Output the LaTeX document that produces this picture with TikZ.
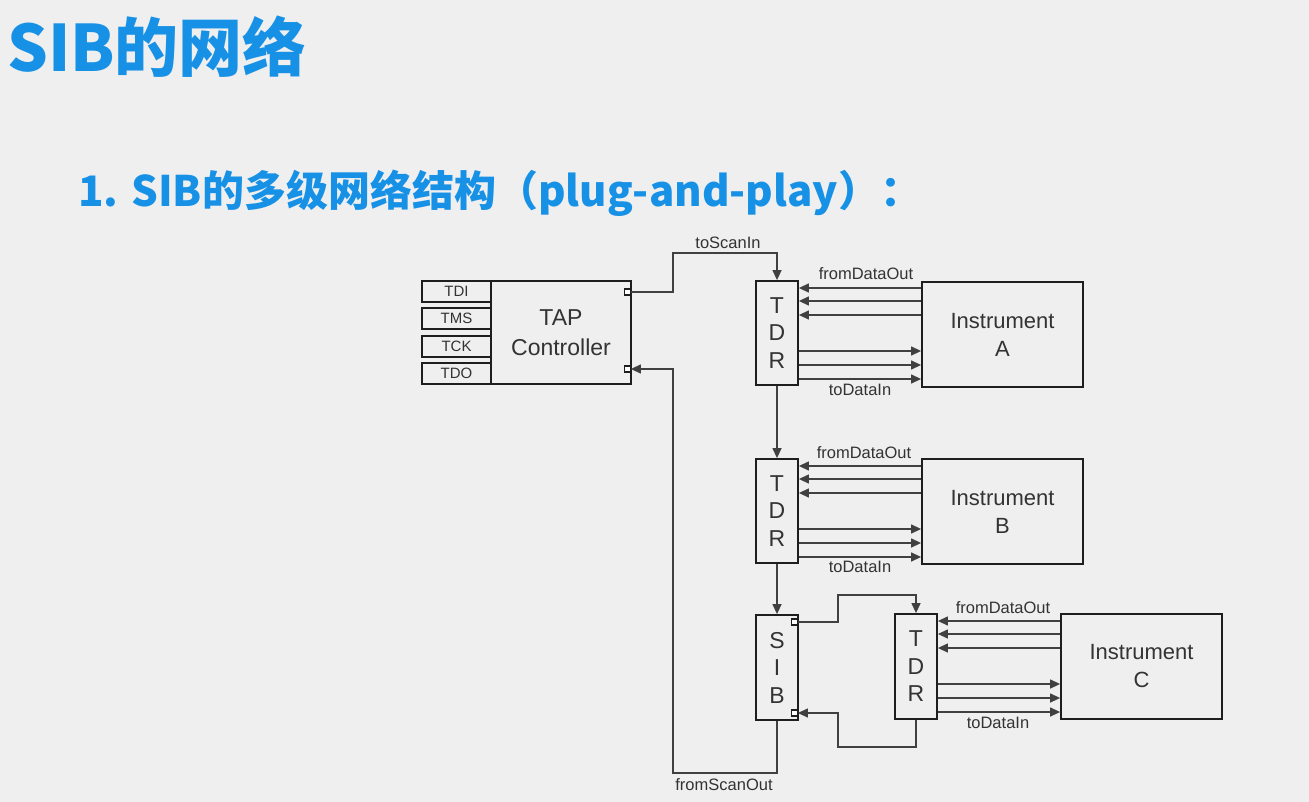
\documentclass[tikz,border=0pt]{standalone}
\usepackage{fontspec}
\setmainfont{Liberation Sans}
\newfontfamily\cjk{Noto Sans CJK SC}
\usetikzlibrary{arrows.meta,calc}
\definecolor{pagebg}{HTML}{EFEFEF}
\definecolor{titleblue}{HTML}{1791E6}
\definecolor{inkbox}{HTML}{1E1E1E}
\definecolor{inkline}{HTML}{404040}
\definecolor{inktext}{HTML}{333333}
\tikzset{
  blk/.style={draw=inkbox, line width=1.8pt, inner sep=0pt, text=inktext, align=center},
  reg/.style={blk, minimum width=42pt, minimum height=104pt,
    font=\fontsize{23}{27.5}\selectfont},
  inst/.style={blk, minimum width=161pt, minimum height=105pt,
    font=\fontsize{22}{28}\selectfont},
  pin/.style={blk, line width=1.6pt, minimum width=69pt, minimum height=21pt,
    font=\fontsize{15}{17}\selectfont},
  port/.style={draw=inkbox, line width=1.2pt, fill=white, minimum size=6pt, inner sep=0pt},
  sig/.style={draw=inkline, line width=1.3pt, -{Triangle[length=10pt,width=9pt]}},
  wire/.style={draw=inkline, line width=1.3pt},
  lbl/.style={text=inktext, font=\fontsize{16.5}{18}\selectfont, inner sep=0pt},
}
\begin{document}
\begin{tikzpicture}[x=1pt,y=-1pt]
\useasboundingbox (0,0) rectangle (1309,802);
\fill[pagebg] (0,0) rectangle (1309,802);

% headings
\node[anchor=west, inner sep=0pt, text=titleblue, font=\cjk\bfseries\fontsize{64}{66}\selectfont] (title) at (7,47) {SIB的网络};
\node[anchor=west, inner sep=0pt, text=titleblue, font=\cjk\bfseries\fontsize{42}{44}\selectfont] (subtitle) at (78,193) {1. SIB的多级网络结构（plug-and-play）：};

% TAP controller with its pins
\node[blk, minimum width=140pt, minimum height=103pt, font=\fontsize{23}{30}\selectfont] (tap) at (561,332.5) {TAP\\Controller};
\node[pin] (tdi) at (456.5,291.5) {TDI};
\node[pin] (tms) at (456.5,318.5) {TMS};
\node[pin] (tck) at (456.5,346.5) {TCK};
\node[pin] (tdo) at (456.5,373.5) {TDO};
\node[port, anchor=east] (tapout) at ($(tap.east |- 0,292)+(-1,0)$) {};
\node[port, anchor=east] (tapin) at ($(tap.east |- 0,369)+(-1,0)$) {};

% test data registers and instruments
\node[reg] (tdra) at (777,333) {T\\D\\R};
\node[reg] (tdrb) at (777,511) {T\\D\\R};
\node[reg, minimum height=105pt] (sib) at (777,667.5) {S\\I\\B};
\node[reg, minimum height=105pt] (tdrc) at (916,666.5) {T\\D\\R};
\node[port, anchor=east] (sibout) at ($(sib.east |- 0,622)+(-1,0)$) {};
\node[port, anchor=east] (sibin) at ($(sib.east |- 0,713)+(-1,0)$) {};

\node[inst] (insta) at (1002.5,334.5) {Instrument\\A};
\node[inst] (instb) at (1002.5,511.5) {Instrument\\B};
\node[inst] (instc) at (1141.5,666.5) {Instrument\\C};

% scan path
\coordinate (tsi1) at (673,292);
\coordinate (tsi2) at (673,253);
\draw[sig] (tapout.east) -- (tsi1) -- (tsi2) -- (tdra.north |- tsi2) -- (tdra.north);
\node[lbl] (tsilbl) at (728,243) {toScanIn};
\draw[sig] (tdra.south) -- (tdrb.north);
\draw[sig] (tdrb.south) -- (sib.north);
\coordinate (sa1) at (838,622);
\coordinate (sa2) at (838,595);
\draw[sig] (sibout.east) -- (sa1) -- (sa2) -- (tdrc.north |- sa2) -- (tdrc.north);
\coordinate (sb1) at (916,747);
\coordinate (sb2) at (838,747);
\coordinate (sb3) at (838,713);
\draw[sig] (tdrc.south) -- (sb1) -- (sb2) -- (sb3) -- (sibin.east);
\coordinate (so1) at (777,773);
\coordinate (so2) at (673,773);
\coordinate (so3) at (673,369);
\draw[sig] (sib.south) -- (so1) -- (so2) -- (so3) -- (tapin.east);
\node[lbl] (solbl) at (724,785) {fromScanOut};

% data buses between registers and instruments
\foreach \r/\i/\t in {tdra/insta/281, tdrb/instb/459, tdrc/instc/614}{
  \foreach \d in {7,20,34}{
    \draw[sig] (\i.west |- 0,\t+\d) -- (\r.east |- 0,\t+\d);
  }
  \foreach \d in {70,84,98}{
    \draw[sig] (\r.east |- 0,\t+\d) -- (\i.west |- 0,\t+\d);
  }
}
\node[lbl] (fdoa) at (866,274) {fromDataOut};
\node[lbl] (tdia) at (860,390) {toDataIn};
\node[lbl] (fdob) at (864,453) {fromDataOut};
\node[lbl] (tdib) at (860,567) {toDataIn};
\node[lbl] (fdoc) at (1003,608) {fromDataOut};
\node[lbl] (tdic) at (998,723) {toDataIn};
\end{tikzpicture}
\end{document}
